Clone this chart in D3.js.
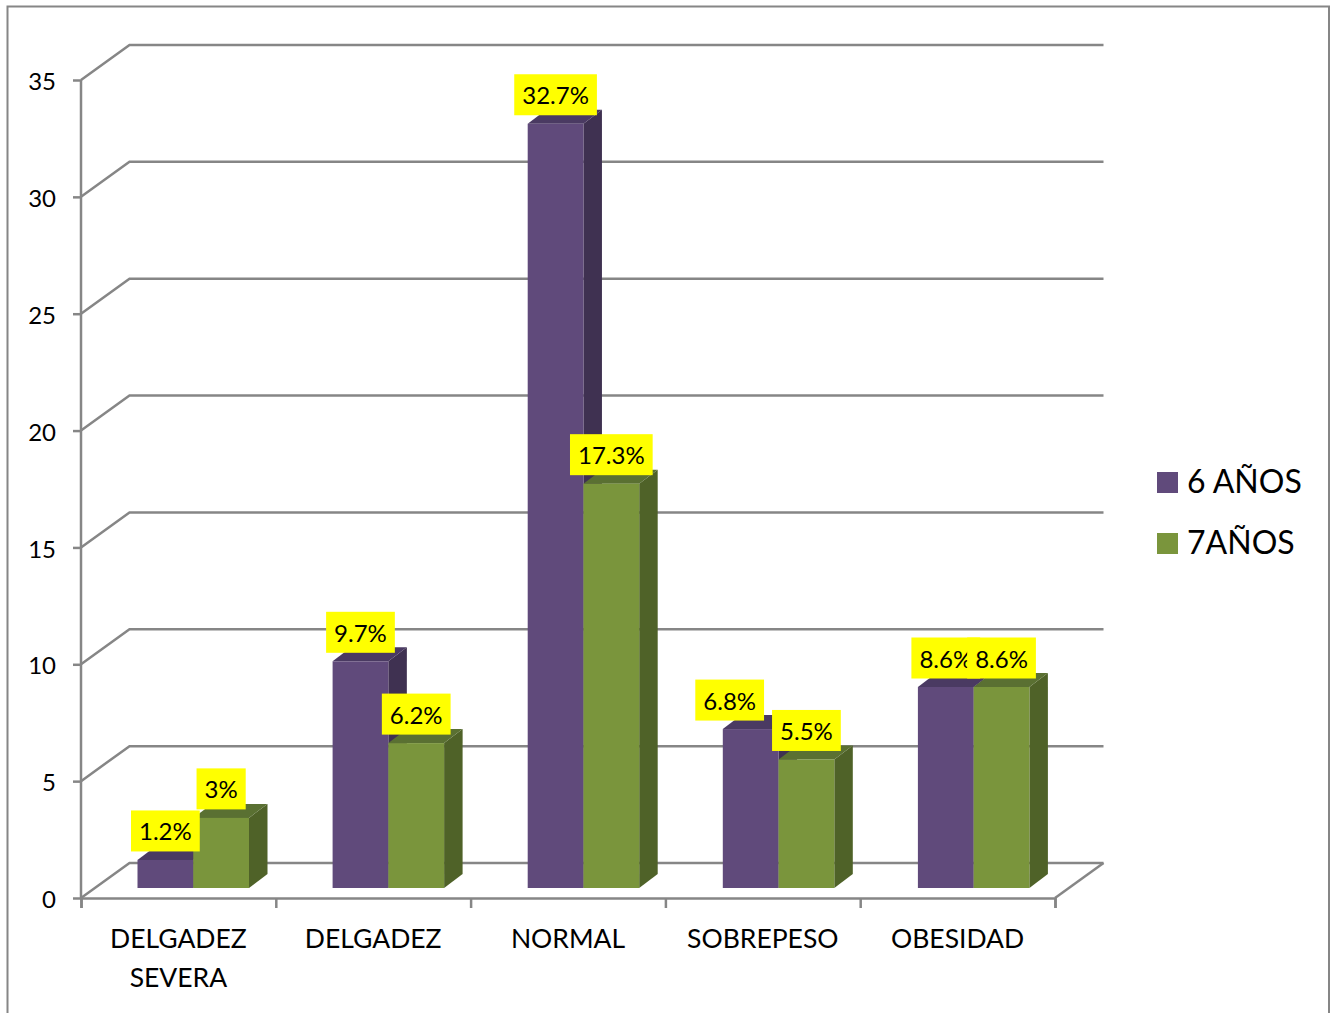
<!DOCTYPE html>
<html>
<head>
<meta charset="utf-8">
<script src="https://cdn.jsdelivr.net/npm/d3@7"></script>
<style>
  html, body { margin: 0; padding: 0; background: #fff; overflow: hidden; }
  text { font-family: Lato, "Open Sans", sans-serif; fill: #000; }
  .axis path, .axis line { stroke: #868686; stroke-width: 2.5; }
</style>
</head>
<body>
<svg id="chart" width="1333" height="1013"></svg>
<script>
const categories = [['DELGADEZ', 'SEVERA'], ['DELGADEZ'], ['NORMAL'], ['SOBREPESO'], ['OBESIDAD']]
const values6 = [1.2, 9.7, 32.7, 6.8, 8.6]
const values7 = [3, 6.2, 17.3, 5.5, 8.6]
const labels6 = ['1.2%', '9.7%', '32.7%', '6.8%', '8.6%']
const labels7 = ['3%', '6.2%', '17.3%', '5.5%', '8.6%']
const seriesNames = ['6 AÑOS', '7AÑOS']
const yTicks = [0, 5, 10, 15, 20, 25, 30, 35]

const grey = '#868686'
const purple = { front: '#604a7b', top: '#4a3a62', side: '#3f3151' }
const green = { front: '#7a953c', top: '#5a7032', side: '#4f6228' }

// plot box: front left edge and how far the walls are pushed back
const plotLeft = 81
const plotRight = 1055
const plotBottom = 898
const plotTop = 80
const wallDx = 48.5
const wallDy = 35
const barDx = 18.5
const barDy = 14
const floorDy = 10 // bars sit a little behind the front edge of the floor

const svg = d3.select('#chart')

const y = d3.scaleLinear().domain([0, 35]).range([plotBottom, plotTop])
const x0 = d3.scaleBand().domain(d3.range(categories.length)).range([plotLeft, plotRight])
const xBars = d3.scaleBand().domain(d3.range(categories.length)).range([plotLeft, plotRight + 1.5])
const x1 = d3.scaleBand().domain([0, 1]).range([0, 111.5])
const xEdge = d3.scaleLinear().domain([0, categories.length]).range([plotLeft, plotRight])
const groupOffset = 56.5

// frame of the pasted picture, its bottom runs off the page
svg.append('path')
  .attr('d', 'M7.5,1020V6.5H1329V1020')
  .attr('fill', 'none')
  .attr('stroke', grey)
  .attr('stroke-width', 2)

// back wall and side wall
const grid = svg.append('g').attr('fill', 'none').attr('stroke', grey).attr('stroke-width', 2.5)
grid.selectAll('path.wall').data(yTicks).enter().append('path')
  .attr('class', 'wall')
  .attr('d', d => 'M' + plotLeft + ',' + y(d) + 'L' + (plotLeft + wallDx) + ',' + (y(d) - wallDy) + 'H' + (plotRight + wallDx))
grid.append('path')
  .attr('d', 'M' + (plotRight + wallDx) + ',' + (y(0) - wallDy) + 'L' + plotRight + ',' + y(0))

const yAxis = d3.axisLeft(y).tickValues(yTicks).tickSize(8).tickPadding(17).tickFormat(d3.format('d'))
const yG = svg.append('g').attr('class', 'axis').attr('transform', 'translate(' + plotLeft + ',0)').call(yAxis)
yG.select('.domain').attr('d', 'M0,' + plotTop + 'V' + plotBottom)
yG.selectAll('text').attr('dy', '0.4em').style('font-size', '24px')

const xAxis = d3.axisBottom(xEdge).ticks(categories.length).tickSize(10).tickFormat(() => '')
svg.append('g').attr('class', 'axis').attr('transform', 'translate(0,' + plotBottom + ')').call(xAxis)

const catLabels = svg.append('g').selectAll('text').data(categories).enter().append('text')
  .attr('text-anchor', 'middle')
  .style('font-size', '26.5px')
catLabels.selectAll('tspan').data((d, i) => d.map(t => ({ t, i }))).enter().append('tspan')
  .attr('x', d => x0(d.i) + x0.bandwidth() / 2)
  .attr('y', (d, j) => 948 + j * 39)
  .text(d => d.t)

function barX (i, s) {
  return xBars(i) + groupOffset + x1(s)
}

function drawBar (g, i, s, value, col) {
  const w = x1.bandwidth()
  const x = barX(i, s)
  const yTop = y(value) - floorDy
  const yBase = y(0) - floorDy
  g.append('path').attr('fill', col.side)
    .attr('d', 'M' + (x + w) + ',' + yTop + 'l' + barDx + ',' + (-barDy) + 'V' + (yBase - barDy) + 'L' + (x + w) + ',' + yBase + 'Z')
  g.append('path').attr('fill', col.top)
    .attr('d', 'M' + x + ',' + yTop + 'l' + barDx + ',' + (-barDy) + 'h' + w + 'l' + (-barDx) + ',' + barDy + 'Z')
  g.append('rect').attr('fill', col.front)
    .attr('x', x).attr('y', yTop).attr('width', w).attr('height', yBase - yTop)
}

const bars = svg.append('g')
categories.forEach((c, i) => {
  drawBar(bars, i, 0, values6[i], purple)
  drawBar(bars, i, 1, values7[i], green)
})

function drawLabel (i, s, value, label, nudge) {
  const g = svg.append('g')
  const cx = barX(i, s) + x1.bandwidth() / 2 + nudge
  const boxBottom = y(value) - floorDy - 8.5
  const box = g.append('rect').attr('fill', '#ffff00')
  const t = g.append('text')
    .attr('x', cx)
    .attr('y', boxBottom - 11)
    .attr('text-anchor', 'middle')
    .style('font-size', '24px')
    .text(label)
  const w = t.node().getComputedTextLength() + 16
  box.attr('x', cx - w / 2).attr('y', boxBottom - 41).attr('width', w).attr('height', 41)
}

// the 6.8% label was dragged left of its bar in the original
values6.forEach((v, i) => drawLabel(i, 0, v, labels6[i], i === 3 ? -21 : 0))
values7.forEach((v, i) => drawLabel(i, 1, v, labels7[i], 0))

// legend
const legend = svg.append('g').selectAll('g').data(seriesNames).enter().append('g')
  .attr('transform', (d, i) => 'translate(1157,' + (472 + i * 61) + ')')
legend.append('rect')
  .attr('width', 21).attr('height', 21)
  .attr('fill', (d, i) => i === 0 ? purple.front : green.front)
legend.append('text')
  .attr('x', 30).attr('y', 21)
  .style('font-size', '32px')
  .text(d => d)
</script>
</body>
</html>
